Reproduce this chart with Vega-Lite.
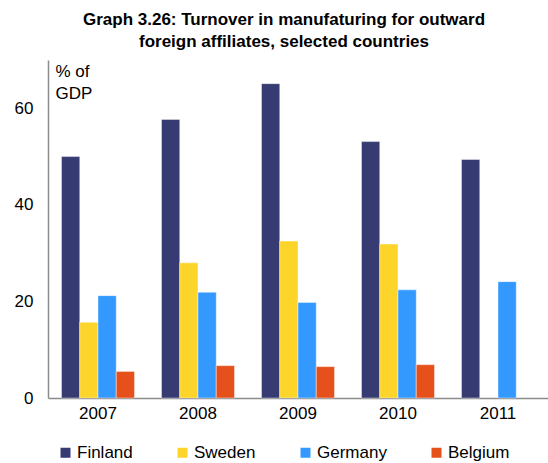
{
  "$schema": "https://vega.github.io/schema/vega-lite/v6.json",
  "width": 500,
  "height": 338,
  "autosize": {"type": "none"},
  "padding": {"left": 48, "top": 60, "right": 0, "bottom": 65},
  "background": "white",
  "config": {
    "font": "Liberation Sans",
    "view": {"stroke": null}
  },
  "title": {
    "text": ["Graph 3.26: Turnover in manufaturing for outward", "foreign affiliates, selected countries"],
    "fontSize": 17,
    "fontWeight": "bold",
    "lineHeight": 22,
    "anchor": "middle",
    "dx": -14,
    "offset": 9,
    "color": "black"
  },
  "data": {
    "values": [
      {"year": "2007", "country": "Finland", "value": 50.0},
      {"year": "2007", "country": "Sweden", "value": 15.7},
      {"year": "2007", "country": "Germany", "value": 21.2},
      {"year": "2007", "country": "Belgium", "value": 5.5},
      {"year": "2008", "country": "Finland", "value": 57.7},
      {"year": "2008", "country": "Sweden", "value": 28.0},
      {"year": "2008", "country": "Germany", "value": 21.9},
      {"year": "2008", "country": "Belgium", "value": 6.7},
      {"year": "2009", "country": "Finland", "value": 65.1},
      {"year": "2009", "country": "Sweden", "value": 32.5},
      {"year": "2009", "country": "Germany", "value": 19.8},
      {"year": "2009", "country": "Belgium", "value": 6.5},
      {"year": "2010", "country": "Finland", "value": 53.1},
      {"year": "2010", "country": "Sweden", "value": 31.9},
      {"year": "2010", "country": "Germany", "value": 22.4},
      {"year": "2010", "country": "Belgium", "value": 6.9},
      {"year": "2011", "country": "Finland", "value": 49.4},
      {"year": "2011", "country": "Germany", "value": 24.1}
    ]
  },
  "mark": {"type": "bar", "stroke": "white", "strokeWidth": 0.6, "strokeOpacity": 0.7},
  "encoding": {
    "x": {
      "field": "year",
      "type": "nominal",
      "scale": {"paddingInner": 0.27, "paddingOuter": 0.135},
      "axis": {
        "title": null,
        "labelAngle": 0,
        "labelFontSize": 17,
        "labelColor": "black",
        "labelPadding": 7,
        "ticks": false,
        "domainColor": "#8c8c8c",
        "domainWidth": 1.5
      }
    },
    "xOffset": {
      "field": "country",
      "type": "nominal",
      "sort": ["Finland", "Sweden", "Germany", "Belgium"],
      "scale": {"paddingInner": 0, "paddingOuter": 0}
    },
    "y": {
      "field": "value",
      "type": "quantitative",
      "scale": {"domain": [0, 70], "nice": false},
      "axis": {
        "values": [0, 20, 40, 60],
        "grid": false,
        "ticks": false,
        "labelFontSize": 17,
        "labelColor": "black",
        "labelPadding": 15,
        "domainColor": "#8c8c8c",
        "domainWidth": 1.5,
        "title": ["% of", "GDP"],
        "titleAngle": 0,
        "titleAlign": "left",
        "titleBaseline": "top",
        "titleX": 7,
        "titleY": 3,
        "titleFontSize": 17,
        "titleFontWeight": "normal",
        "titleLineHeight": 22,
        "titleColor": "black"
      }
    },
    "color": {
      "field": "country",
      "type": "nominal",
      "sort": ["Finland", "Sweden", "Germany", "Belgium"],
      "scale": {
        "domain": ["Finland", "Sweden", "Germany", "Belgium"],
        "range": ["#363b72", "#fdd52a", "#3399ff", "#e6501b"]
      },
      "legend": {
        "title": null,
        "orient": "none",
        "direction": "horizontal",
        "legendX": 9,
        "legendY": 384,
        "symbolType": "square",
        "symbolSize": 100,
        "symbolStrokeWidth": 0,
        "labelFontSize": 17,
        "labelColor": "black",
        "labelOffset": 3,
        "columnPadding": 41
      }
    }
  }
}
